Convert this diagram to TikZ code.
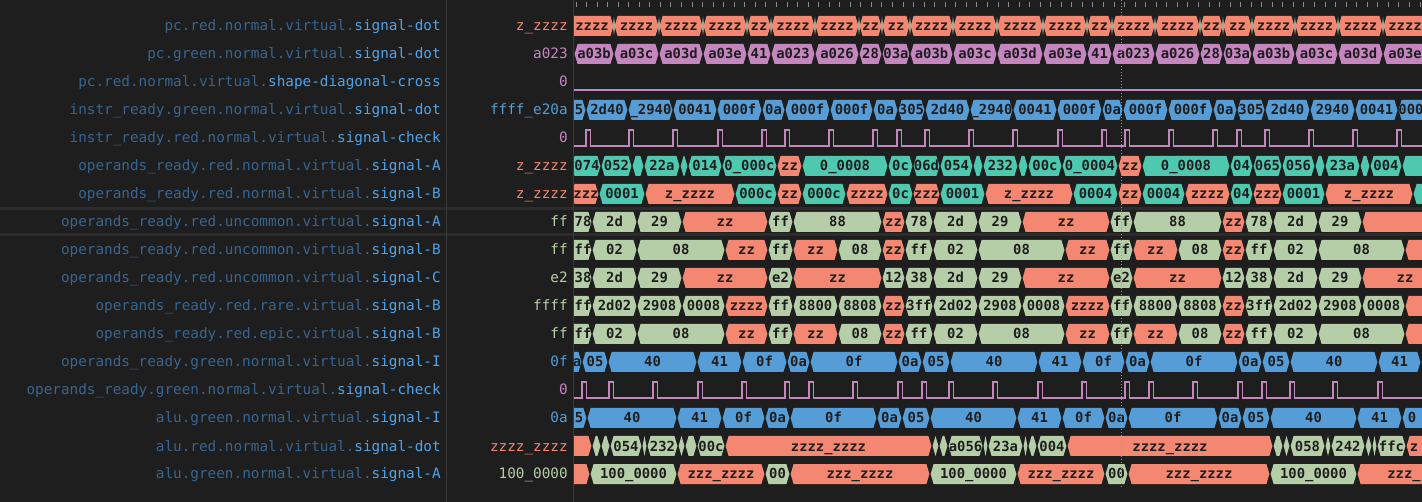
\documentclass[tikz,border=0pt]{standalone}
\usepackage{fontspec}
\setmonofont{DejaVu Sans Mono}
\definecolor{bg}{HTML}{1E1E1E}
\definecolor{cS}{HTML}{F48771}
\definecolor{cP}{HTML}{C586C0}
\definecolor{cB}{HTML}{569CD6}
\definecolor{cT}{HTML}{4EC9B0}
\definecolor{cG}{HTML}{B5CEA8}
\definecolor{segdark}{HTML}{1E1E1E}
\definecolor{pre}{HTML}{386590}
\definecolor{suf}{HTML}{4FA3EA}
\definecolor{sepc}{HTML}{3C3C3C}
\definecolor{bandc}{HTML}{2C2C2C}
\definecolor{tickc}{HTML}{8A8A8A}
\definecolor{curc}{HTML}{9A9A9A}
\tikzset{
  lbl/.style={anchor=base east, inner sep=0pt, font=\ttfamily\fontsize{10.75}{12}\selectfont},
  segtext/.style={anchor=base, inner sep=0pt, text=segdark, font=\ttfamily\bfseries\fontsize{10.4}{12}\selectfont},
  tickmark/.style={draw=tickc, line width=0.75pt},
  pulseline/.style={draw=cP, line width=1pt, line join=miter},
  sepline/.style={draw=sepc, line width=0.75pt},
  bandline/.style={draw=bandc, line width=2.25pt},
  cursorline/.style={draw=curc, line width=0.75pt, dash pattern=on 0.75pt off 1.5pt},
}
\newcommand\lb[2]{\textcolor{pre}{#1}\textcolor{suf}{#2}}
% segment with explicit text centre: x1, x2, y, colour, text, text-x
\newcommand\wsegt[6]{%
  \pgfmathsetmacro\wsl{min(3,((#2)-(#1))/2-0.6)}%
  \def\wpath{({#1+0.6},#3) -- ({#1+0.6+\wsl},{#3-10}) -- ({#2-0.6-\wsl},{#3-10}) -- ({#2-0.6},#3) -- ({#2-0.6-\wsl},{#3+10}) -- ({#1+0.6+\wsl},{#3+10}) -- cycle}%
  \fill[#4] \wpath;
  \begin{scope}
    \clip \wpath;
    \node[segtext] at ({#6},{#3+5}) {#5};
  \end{scope}}
\newcommand\wseg[5]{\wsegt{#1}{#2}{#3}{#4}{#5}{(#1+#2)/2}}
\begin{document}
\begin{tikzpicture}[x=0.75pt,y=-0.75pt]
\useasboundingbox (0,0) rectangle (1422,502);
\fill[bg] (0,0) rectangle (1422,502);
% selected row band
\draw[bandline] (0,208.5) -- (1422,208.5);
\draw[bandline] (0,234.5) -- (1422,234.5);
% separators
\draw[sepline] (446,0) -- (446,502);
\draw[sepline] (573.5,0) -- (573.5,502);
% names
\node[lbl] (n1) at (441,31) {\lb{pc.red.normal.virtual.}{signal-dot}};
\node[lbl] (n2) at (441,59) {\lb{pc.green.normal.virtual.}{signal-dot}};
\node[lbl] (n3) at (441,87) {\lb{pc.red.normal.virtual.}{shape-diagonal-cross}};
\node[lbl] (n4) at (441,115) {\lb{instr\_ready.green.normal.virtual.}{signal-dot}};
\node[lbl] (n5) at (441,143) {\lb{instr\_ready.red.normal.virtual.}{signal-check}};
\node[lbl] (n6) at (441,171) {\lb{operands\_ready.red.normal.virtual.}{signal-A}};
\node[lbl] (n7) at (441,199) {\lb{operands\_ready.red.normal.virtual.}{signal-B}};
\node[lbl] (n8) at (441,227) {\lb{operands\_ready.red.uncommon.virtual.}{signal-A}};
\node[lbl] (n9) at (441,255) {\lb{operands\_ready.red.uncommon.virtual.}{signal-B}};
\node[lbl] (n10) at (441,283) {\lb{operands\_ready.red.uncommon.virtual.}{signal-C}};
\node[lbl] (n11) at (441,311) {\lb{operands\_ready.red.rare.virtual.}{signal-B}};
\node[lbl] (n12) at (441,339) {\lb{operands\_ready.red.epic.virtual.}{signal-B}};
\node[lbl] (n13) at (441,367) {\lb{operands\_ready.green.normal.virtual.}{signal-I}};
\node[lbl] (n14) at (441,395) {\lb{operands\_ready.green.normal.virtual.}{signal-check}};
\node[lbl] (n15) at (441,423) {\lb{alu.green.normal.virtual.}{signal-I}};
\node[lbl] (n16) at (441,451) {\lb{alu.red.normal.virtual.}{signal-dot}};
\node[lbl] (n17) at (441,479) {\lb{alu.green.normal.virtual.}{signal-A}};
% values
\node[lbl,text=cS] (v1) at (568,31) {z\_zzzz};
\node[lbl,text=cP] (v2) at (568,59) {a023};
\node[lbl,text=cP] (v3) at (568,87) {0};
\node[lbl,text=cB] (v4) at (568,115) {ffff\_e20a};
\node[lbl,text=cP] (v5) at (568,143) {0};
\node[lbl,text=cS] (v6) at (568,171) {z\_zzzz};
\node[lbl,text=cS] (v7) at (568,199) {z\_zzzz};
\node[lbl,text=cG] (v8) at (568,227) {ff};
\node[lbl,text=cG] (v9) at (568,255) {ff};
\node[lbl,text=cG] (v10) at (568,283) {e2};
\node[lbl,text=cG] (v11) at (568,311) {ffff};
\node[lbl,text=cG] (v12) at (568,339) {ff};
\node[lbl,text=cB] (v13) at (568,367) {0f};
\node[lbl,text=cP] (v14) at (568,395) {0};
\node[lbl,text=cB] (v15) at (568,423) {0a};
\node[lbl,text=cS] (v16) at (568,451) {zzzz\_zzzz};
\node[lbl,text=cG] (v17) at (568,479) {100\_0000};
\begin{scope}
\clip (574,0) rectangle (1422,502);
% ticks
\foreach \i in {0,...,80} \draw[tickmark] ({576+10.55*\i},2) -- ++(0,5);
% row 1
\foreach \a/\b/\t in {570/614/zzzz,614/659/zzzz,659/703/zzzz,703/747/zzzz,747/771/zz,771/815/zzzz,815/859/zzzz,859/882/zz,882/910/zz,910/953/zzzz,953/997/zzzz,997/1043/zzzz,1043/1087/zzzz,1087/1112/zz,1112/1155/zzzz,1155/1200/zzzz,1200/1223/zz,1223/1252/zz,1252/1295/zzzz,1295/1338/zzzz,1338/1383/zzzz,1383/1427/zzzz}{\wseg{\a}{\b}{26}{cS}{\t}}
\foreach \x in {614,659,703,747,771,815,859,882,910,953,997,1043,1087,1112,1155,1200,1223,1252,1295,1338,1383}{\fill[cG,opacity=0.8] (\x,17) -- ({\x+1.3},26) -- (\x,35) -- ({\x-1.3},26) -- cycle;}
% row 2
\foreach \a/\b/\t in {574/614/a03b,614/659/a03c,659/703/a03d,703/747/a03e,747/771/41,771/815/a023,815/859/a026,859/882/28,882/910/03a,910/953/a03b,953/997/a03c,997/1043/a03d,1043/1087/a03e,1087/1112/41,1112/1155/a023,1155/1200/a026,1200/1223/28,1223/1252/03a,1252/1295/a03b,1295/1338/a03c,1338/1383/a03d,1383/1427/a03e}{\wseg{\a}{\b}{54}{cP}{\t}}
% row 3
\draw[pulseline] (574,90) -- (1422,90);
% row 4
\wsegt{556}{586}{110}{cB}{5}{579}
\foreach \a/\b/\t in {586/628/2d40,628/673/\_2940,673/717/0041,717/762/000f,762/785/0a,785/830/000f,830/873/000f,873/898/0a,898/925/305,925/970/2d40,970/1013/\_2940,1013/1057/0041,1057/1102/000f,1102/1123/0a,1123/1168/000f,1168/1213/000f,1213/1237/0a,1237/1265/305,1265/1310/2d40,1310/1355/2940,1355/1398/0041}{\wseg{\a}{\b}{110}{cB}{\t}}
\wsegt{1398}{1442}{110}{cB}{000}{1411}
% row 5
\draw[pulseline] (574,146) \foreach \p in {586,629,673,718,762,785,829,873,897,925,969,1013,1058,1102,1125,1169,1213,1237,1265,1309,1353,1397}{ -- (\p,146) -- (\p,130) -- ({\p+4.5},130) -- ({\p+4.5},146)} -- (1422,146);
% row 6
\wsegt{571}{601}{166}{cT}{074}{587}
\foreach \a/\b/\c/\t in {601/632/cT/052,632/644/cT/{},644/680/cT/22a,680/688/cT/{},688/722/cT/014,722/777/cT/0\_000c,777/802/cS/zz,802/888/cT/0\_0008,888/913/cT/0c,913/940/cT/06d,940/973/cT/054,973/983/cT/{},983/1018/cT/232,1018/1028/cT/{},1028/1062/cT/00c,1062/1118/cT/0\_0004,1118/1142/cS/zz,1142/1230/cT/0\_0008,1230/1253/cT/04,1253/1282/cT/065,1282/1315/cT/056,1315/1325/cT/{},1325/1360/cT/23a,1360/1370/cT/{},1370/1402/cT/004,1402/1450/cT/{}}{\wseg{\a}{\b}{166}{\c}{\t}}
% row 7
\wsegt{571}{599}{194}{cS}{zzz}{586}
\foreach \a/\b/\c/\t in {599/645/cT/0001,645/735/cS/z\_zzzz,735/777/cT/000c,777/802/cS/zz,802/846/cT/000c,846/888/cS/zzzz,888/913/cT/0c,913/940/cS/zzz,940/985/cT/0001,985/1073/cS/z\_zzzz,1073/1118/cT/0004,1118/1142/cS/zz,1142/1185/cT/0004,1185/1230/cS/zzzz,1230/1253/cT/04,1253/1282/cS/zzz,1282/1325/cT/0001,1325/1413/cS/z\_zzzz,1413/1460/cT/{}}{\wseg{\a}{\b}{194}{\c}{\t}}
% row 8
\wsegt{570}{592}{222}{cG}{78}{583}
\foreach \a/\b/\c/\t in {592/637/cG/2d,637/682/cG/29,682/768/cS/zz,768/793/cG/ff,793/882/cG/88,882/905/cS/zz,905/933/cG/78,933/978/cG/2d,978/1022/cG/29,1022/1110/cS/zz,1110/1133/cG/ff,1133/1222/cG/88,1222/1245/cS/zz,1245/1273/cG/78,1273/1318/cG/2d,1318/1362/cG/29,1362/1500/cS/{}}{\wseg{\a}{\b}{222}{\c}{\t}}
% row 9
\wsegt{570}{592}{250}{cG}{ff}{583}
\foreach \a/\b/\c/\t in {592/637/cG/02,637/725/cG/08,725/768/cS/zz,768/793/cG/ff,793/838/cS/zz,838/882/cG/08,882/905/cS/zz,905/933/cG/ff,933/978/cG/02,978/1065/cG/08,1065/1110/cS/zz,1110/1133/cG/ff,1133/1178/cS/zz,1178/1222/cG/08,1222/1245/cS/zz,1245/1273/cG/ff,1273/1318/cG/02,1318/1405/cG/08,1405/1500/cS/{}}{\wseg{\a}{\b}{250}{\c}{\t}}
% row 10
\wsegt{566}{592}{278}{cG}{38}{583}
\foreach \a/\b/\c/\t in {592/637/cG/2d,637/682/cG/29,682/768/cS/zz,768/793/cG/e2,793/882/cS/zz,882/905/cG/12,905/933/cG/38,933/978/cG/2d,978/1022/cG/29,1022/1110/cS/zz,1110/1133/cG/e2,1133/1222/cS/zz,1222/1245/cG/12,1245/1273/cG/38,1273/1318/cG/2d,1318/1362/cG/29,1362/1448/cS/zz}{\wseg{\a}{\b}{278}{\c}{\t}}
% row 11
\wsegt{570}{592}{306}{cG}{ff}{583}
\foreach \a/\b/\c/\t in {592/637/cG/2d02,637/682/cG/2908,682/725/cG/0008,725/768/cS/zzzz,768/793/cG/ff,793/838/cG/8800,838/882/cG/8808,882/905/cS/zz,905/933/cG/3ff,933/978/cG/2d02,978/1022/cG/2908,1022/1065/cG/0008,1065/1110/cS/zzzz,1110/1133/cG/ff,1133/1178/cG/8800,1178/1222/cG/8808,1222/1245/cS/zz,1245/1273/cG/3ff,1273/1318/cG/2d02,1318/1362/cG/2908,1362/1405/cG/0008,1405/1500/cS/{}}{\wseg{\a}{\b}{306}{\c}{\t}}
% row 12
\wsegt{570}{592}{334}{cG}{ff}{583}
\foreach \a/\b/\c/\t in {592/637/cG/02,637/725/cG/08,725/768/cS/zz,768/793/cG/ff,793/838/cS/zz,838/882/cG/08,882/905/cS/zz,905/933/cG/ff,933/978/cG/02,978/1065/cG/08,1065/1110/cS/zz,1110/1133/cG/ff,1133/1178/cS/zz,1178/1222/cG/08,1222/1245/cS/zz,1245/1273/cG/ff,1273/1318/cG/02,1318/1405/cG/08,1405/1500/cS/{}}{\wseg{\a}{\b}{334}{\c}{\t}}
% row 13
\wsegt{562}{582}{362}{cB}{a}{577}
\foreach \a/\b/\t in {582/608/05,608/697/40,697/742/41,742/787/0f,787/810/0a,810/898/0f,898/922/0a,922/950/05,950/1038/40,1038/1082/41,1082/1125/0f,1125/1150/0a,1150/1238/0f,1238/1262/0a,1262/1290/05,1290/1378/40,1378/1421/41,1421/1460/{}}{\wseg{\a}{\b}{362}{cB}{\t}}
% row 14
\draw[pulseline] (574,398) \foreach \p in {582,609,653,698,742,785,809,853,898,922,949,993,1038,1082,1125,1149,1193,1238,1262,1290,1333,1378}{ -- (\p,398) -- (\p,382) -- ({\p+4.5},382) -- ({\p+4.5},398)} -- (1422,398);
% row 15
\wsegt{565}{587}{418}{cB}{5}{579}
\foreach \a/\b/\t in {587/677/40,677/722/41,722/765/0f,765/790/0a,790/877/0f,877/902/0a,902/930/05,930/1017/40,1017/1062/41,1062/1105/0f,1105/1128/0a,1128/1218/0f,1218/1242/0a,1242/1270/05,1270/1357/40,1357/1402/41}{\wseg{\a}{\b}{418}{cB}{\t}}
\wsegt{1402}{1446}{418}{cB}{0}{1412}
% row 16
\foreach \a/\b/\c/\t in {556/592/cS/{},592/601/cG/{},601/610/cG/{},610/642/cG/054,642/647/cG/{},647/678/cG/232,678/685/cG/{},685/697/cG/{},697/725/cG/00c,725/932/cS/zzzz\_zzzz,932/939/cG/{},939/948/cG/{},948/983/cG/a056,983/988/cG/{},988/1023/cG/23a,1023/1028/cG/{},1028/1037/cG/{},1037/1067/cG/004,1067/1273/cS/zzzz\_zzzz,1273/1283/cG/{},1283/1290/cG/{},1290/1325/cG/058,1325/1331/cG/{},1331/1365/cG/242,1365/1372/cG/{},1372/1377/cG/{},1377/1406/cG/ffc}{\wseg{\a}{\b}{446}{\c}{\t}}
\wsegt{1406}{1485}{446}{cS}{z}{1414}
% row 17
\foreach \a/\b/\c/\t in {556/590/cS/{},590/677/cG/100\_0000,677/765/cS/zzz\_zzzz,765/790/cG/00,790/930/cS/zzz\_zzzz,930/1017/cG/100\_0000,1017/1105/cS/zzz\_zzzz,1105/1128/cG/00,1128/1270/cS/zzz\_zzzz,1270/1357/cG/100\_0000}{\wseg{\a}{\b}{474}{\c}{\t}}
\wsegt{1357}{1500}{474}{cS}{zzz\_}{1404}
% cursor
\draw[cursorline] (1121,0) -- (1121,487);
\end{scope}
\end{tikzpicture}
\end{document}
